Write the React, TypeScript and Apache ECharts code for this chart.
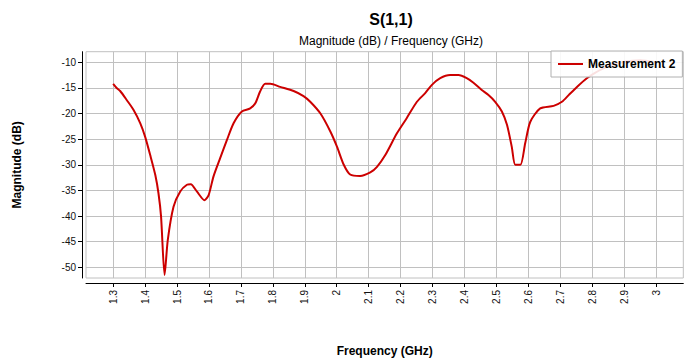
import React, { useEffect, useRef } from "react";
import * as echarts from "echarts";

const freqGHz = [
  1.3, 1.311, 1.322, 1.343, 1.364, 1.385, 1.4, 1.416, 1.432, 1.442, 1.45, 1.461, 1.471, 1.489, 1.51, 1.531,
  1.543, 1.562, 1.586, 1.599, 1.614, 1.635, 1.656, 1.677, 1.703, 1.729, 1.745, 1.76, 1.776, 1.792,
  1.823, 1.865, 1.896, 1.917, 1.949, 1.98, 2.001, 2.022, 2.042, 2.073, 2.105, 2.126, 2.152, 2.188,
  2.219, 2.251, 2.277, 2.298, 2.324, 2.355, 2.381, 2.407, 2.428, 2.454, 2.475, 2.496, 2.517, 2.533,
  2.548, 2.559, 2.575, 2.59, 2.606, 2.637, 2.679, 2.705, 2.726, 2.752, 2.783, 2.81, 2.85, 2.9, 2.95, 3.0,
];
const magnitudeDb = [
  -14.2, -15.0, -15.6, -17.4, -19.3, -21.9, -24.5, -28.1, -32.0, -35.6, -40.1, -51.5, -44.7, -38.2, -35.2, -33.9,
  -33.8, -35.2, -36.9, -35.9, -32.3, -28.7, -25.2, -21.9, -19.6, -19.0, -18.0, -15.7, -14.2, -14.2,
  -14.8, -15.6, -16.6, -17.7, -20.0, -23.5, -26.5, -30.0, -31.9, -32.2, -31.5, -30.4, -28.1, -23.9,
  -20.9, -17.7, -16.0, -14.4, -13.1, -12.5, -12.5, -13.1, -14.0, -15.4, -16.4, -17.7, -19.6, -22.2,
  -26.5, -30.0, -30.0, -25.8, -21.6, -19.0, -18.5, -17.7, -16.4, -14.8, -13.1, -12.0, -10.8, -9.9, -9.6, -10.0,
];
const xTicks = [1.3, 1.4, 1.5, 1.6, 1.7, 1.8, 1.9, 2.0, 2.1, 2.2, 2.3, 2.4, 2.5, 2.6, 2.7, 2.8, 2.9, 3.0];
const yTicks = [-50, -45, -40, -35, -30, -25, -20, -15, -10];

const seriesName = "Measurement 2";
const titleText = "S(1,1)";
const subtitleText = "Magnitude (dB) / Frequency (GHz)";

export default function App() {
  const ref = useRef<HTMLDivElement>(null);
  useEffect(() => {
    if (!ref.current) return;
    const chart = echarts.init(ref.current, null, { renderer: "svg" });
    const font = "Arial, 'Liberation Sans', sans-serif";
    chart.setOption({
      animation: false,
      backgroundColor: "#ffffff",
      textStyle: { fontFamily: font },
      title: [
        {
          text: titleText,
          left: 386,
          top: 6,
          textAlign: "center",
          textStyle: { fontSize: 16, fontWeight: "bold", color: "#000", fontFamily: font },
        },
        {
          text: subtitleText,
          left: 386,
          top: 30,
          textAlign: "center",
          textStyle: { fontSize: 12, fontWeight: "normal", color: "#000", fontFamily: font },
        },
      ],
      legend: {
        data: [seriesName],
        left: 551,
        top: 51,
        orient: "horizontal",
        backgroundColor: "rgba(255,255,255,0.88)",
        borderColor: "#b0b0b0",
        borderWidth: 1,
        borderRadius: 0,
        padding: [6, 7, 6, 7],
        itemWidth: 25,
        itemHeight: 2,
        icon: "rect",
        textStyle: { fontSize: 12, fontWeight: "bold", color: "#000", fontFamily: font, lineHeight: 14 },
      },
      grid: {
        left: 86,
        right: 5.7,
        top: 51.7,
        bottom: 85,
        show: true,
        borderColor: "#c0c0c0",
        borderWidth: 1,
        backgroundColor: "transparent",
      },
      xAxis: {
        type: "value",
        min: 1.215,
        max: 3.085,
        offset: 5,
        name: "Frequency (GHz)",
        nameLocation: "middle",
        nameGap: 62,
        nameTextStyle: { fontSize: 12, fontWeight: "bold", color: "#000", fontFamily: font },
        axisLine: { show: true, onZero: false, lineStyle: { color: "#000", width: 1 } },
        axisTick: { show: true, length: 4, inside: false, customValues: xTicks, lineStyle: { color: "#000" } },
        axisLabel: {
          customValues: xTicks,
          rotate: 90,
          margin: 7,
          fontSize: 10,
          color: "#111",
          fontFamily: font,
          formatter: (v: number) => String(parseFloat(v.toFixed(2))),
        },
        splitLine: { show: true, lineStyle: { color: "#c0c0c0", width: 1 } },
      },
      yAxis: {
        type: "value",
        min: -52.09,
        max: -7.93,
        offset: 4,
        name: "Magnitude (dB)",
        nameLocation: "middle",
        nameGap: 59,
        nameTextStyle: { fontSize: 12, fontWeight: "bold", color: "#000", fontFamily: font },
        axisLine: { show: true, onZero: false, lineStyle: { color: "#000", width: 1 } },
        axisTick: { show: true, length: 4, inside: false, customValues: yTicks, lineStyle: { color: "#000" } },
        axisLabel: {
          customValues: yTicks,
          margin: 6,
          fontSize: 10,
          color: "#111",
          fontFamily: font,
        },
        splitLine: { show: true, lineStyle: { color: "#c0c0c0", width: 1 } },
      },
      series: [
        {
          name: seriesName,
          type: "line",
          data: freqGHz.map((f, i) => [f, magnitudeDb[i]]),
          showSymbol: false,
          symbol: "none",
          smooth: 0.25,
          clip: true,
          lineStyle: { color: "#cc0000", width: 2 },
          itemStyle: { color: "#cc0000" },
        },
      ],
    });
    return () => chart.dispose();
  }, []);
  return (
    <div
      ref={ref}
      style={{ position: "fixed", left: 0, top: 0, width: 689, height: 363 }}
    />
  );
}
